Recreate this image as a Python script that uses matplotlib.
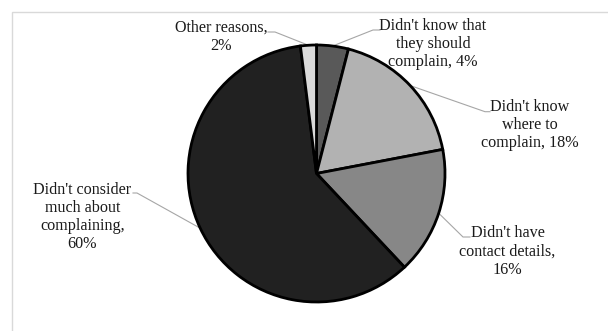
import numpy as np
import matplotlib
matplotlib.use("Agg")
import matplotlib.pyplot as plt
from matplotlib.patches import Rectangle

# Reasons for not complaining (share of respondents, %)
reasons = [
    "Didn't know that\nthey should\ncomplain",
    "Didn't know\nwhere to\ncomplain",
    "Didn't have\ncontact details,\n",
    "Didn't consider\nmuch about\ncomplaining,\n",
    "Other reasons,\n",
]
shares = [4, 18, 16, 60, 2]
colors = ["#595959", "#b2b2b2", "#878787", "#212121", "#d9d9d9"]

W, H = 608, 331
fig = plt.figure(figsize=(W / 100, H / 100), dpi=100)
ax = fig.add_axes([0, 0, 1, 1])

# Light outer frame of the chart area
ax.add_patch(Rectangle((11.5, -20), W + 20, H - 11.5 + 20, fill=False,
                       edgecolor="#d9d9d9", linewidth=1.0))

cx, cy, r = 316.5, H - 173.5, 128.5
wedges, _ = ax.pie(shares, colors=colors, startangle=90, counterclock=False,
                   center=(cx, cy), radius=r, frame=True,
                   wedgeprops=dict(edgecolor="black", linewidth=2.0))
ax.set_xlim(0, W)
ax.set_ylim(0, H)
ax.set_aspect("equal")
ax.axis("off")

# Label text positions (centre of text block) and leader-line anchors near the text
label_pos = [(433, 44), (530, 125), (507.5, 251.5), (82.5, 217), (221, 36.5)]
leader_end = [((380, 30), (373, 30)),
              ((490, 111.7), (485, 111.7)),
              ((470, 237), (463, 237)),
              ((133, 193), (137, 193)),
              ((268, 32), (275, 32))]

for w, name, val, (tx, ty), (p_end, p_elb) in zip(wedges, reasons, shares,
                                                   label_pos, leader_end):
    mid = np.deg2rad((w.theta1 + w.theta2) / 2)
    ex, ey = cx + r * np.cos(mid), cy + r * np.sin(mid)
    xs = [p_end[0], p_elb[0], ex]
    ys = [H - p_end[1], H - p_elb[1], ey]
    ax.plot(xs, ys, color="#a6a6a6", linewidth=0.8, zorder=0.5)
    if name.endswith("\n"):
        text = f"{name}{val}%"
    else:
        text = f"{name}, {val}%"
    ax.text(tx, H - ty, text, ha="center", va="center", multialignment="center",
            fontsize=11.6, family="Liberation Serif", color="#1a1a1a",
            linespacing=1.17)

fig.savefig("out.png", dpi=100, facecolor="white")
